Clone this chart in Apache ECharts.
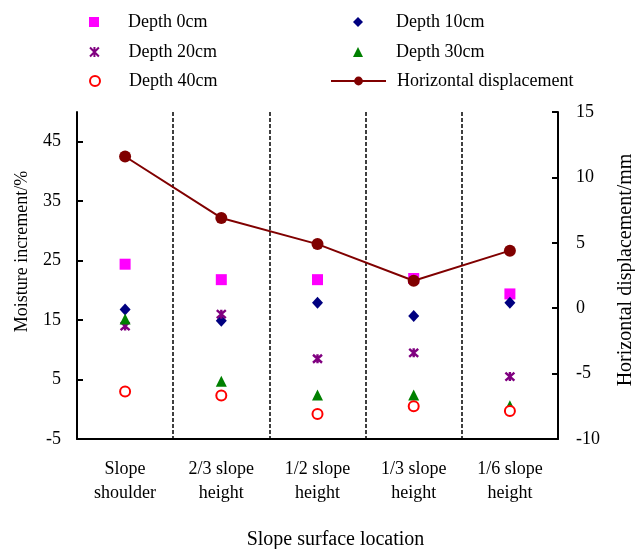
<!DOCTYPE html>
<html>
<head>
<meta charset="utf-8">
<script src="https://cdn.jsdelivr.net/npm/echarts@6/dist/echarts.min.js"></script>
<style>
  html, body { margin: 0; padding: 0; background: #fff; }
  #chart { width: 635px; height: 549px; }
</style>
</head>
<body>
<div id="chart"></div>
<script>
// Slope positions along the surface
const categories = ['Slope\nshoulder', '2/3 slope\nheight', '1/2 slope\nheight', '1/3 slope\nheight', '1/6 slope\nheight'];

// Moisture increment (%) at each depth
const depth0 = [24.4, 21.8, 21.8, 22.0, 19.4];
const depth10 = [16.8, 14.9, 17.9, 15.7, 17.9];
const depth20 = [14.0, 16.0, 8.5, 9.5, 5.5];
const depth30 = [15.2, 4.7, 2.4, 2.4, 0.6];
const depth40 = [3.0, 2.3, -0.8, 0.5, -0.3];

// Horizontal displacement (mm)
const displacement = [11.6, 6.9, 4.9, 2.1, 4.4];

// Tick values for the two value axes
const moistureTicks = [-5, 5, 15, 25, 35, 45];
const displacementTicks = [-10, -5, 0, 5, 10, 15];

const FONT = '"Liberation Serif", "Times New Roman", serif';
const textBase = { fontFamily: FONT, fontSize: 18, color: '#000' };

// asterisk-like cross marker: X with a vertical stroke
const crossPath = 'path://M0,0L8,8M8,0L0,8M4,-0.5L4,8.5';

function legendItem(name, left, top, w, h, padLeft) {
  return {
    data: [name],
    left: left,
    top: top,
    padding: 0,
    itemWidth: w,
    itemHeight: h,
    selectedMode: false,
    textStyle: Object.assign({}, textBase, { padding: [0, 0, 0, padLeft] })
  };
}

const chart = echarts.init(document.getElementById('chart'), null, { renderer: 'canvas' });

chart.setOption({
  animation: false,
  backgroundColor: '#fff',
  textStyle: { fontFamily: FONT },
  legend: [
    legendItem('Depth 0cm', 89, 13, 10, 10, 24),
    legendItem('Depth 20cm', 89, 43, 10, 10, 24),
    legendItem('Depth 40cm', 89, 72, 10, 10, 24),
    legendItem('Depth 10cm', 353, 13, 10, 10, 28),
    legendItem('Depth 30cm', 353, 43, 10, 10, 28),
    legendItem('Horizontal displacement', 330, 72, 55, 11, 6)
  ],
  grid: { left: 77, right: 77, top: 112, bottom: 110, containLabel: false, outerBoundsMode: 'none' },
  xAxis: {
    type: 'category',
    data: categories,
    boundaryGap: true,
    name: 'Slope surface location',
    nameLocation: 'middle',
    nameGap: 91,
    nameTextStyle: Object.assign({}, textBase, { fontSize: 20, padding: [0, 0, 0, 36] }),
    axisLine: { show: true, onZero: false, lineStyle: { color: '#000', width: 2 } },
    axisTick: { show: false },
    axisLabel: Object.assign({}, textBase, { margin: 18, lineHeight: 24, interval: 0 }),
    splitLine: { show: true, lineStyle: { color: '#000', width: 1.5, type: [4, 2] } }
  },
  yAxis: [
    {
      type: 'value',
      position: 'left',
      min: -5,
      max: 50,
      interval: 10,
      name: 'Moisture increment/%',
      nameLocation: 'middle',
      nameRotate: 90,
      nameGap: 46,
      nameTextStyle: Object.assign({}, textBase, { padding: [0, 0, 0, 48] }),
      axisLine: { show: true, onZero: false, lineStyle: { color: '#000', width: 2 } },
      axisTick: { show: true, inside: true, length: 6, customValues: moistureTicks, lineStyle: { color: '#000', width: 2 } },
      axisLabel: Object.assign({}, textBase, { margin: 16, customValues: moistureTicks }),
      splitLine: { show: false }
    },
    {
      type: 'value',
      position: 'right',
      min: -10,
      max: 15,
      interval: 5,
      name: 'Horizontal displacement/mm',
      nameLocation: 'middle',
      nameRotate: 90,
      nameGap: 58,
      nameTextStyle: Object.assign({}, textBase, { fontSize: 20, padding: [0, 0, 0, 11] }),
      axisLine: { show: true, onZero: false, lineStyle: { color: '#000', width: 2 } },
      axisTick: { show: true, inside: true, length: 6, customValues: displacementTicks, lineStyle: { color: '#000', width: 2 } },
      axisLabel: Object.assign({}, textBase, { margin: 18, customValues: displacementTicks }),
      splitLine: { show: false }
    }
  ],
  series: [
    {
      name: 'Depth 0cm', type: 'scatter', data: depth0, yAxisIndex: 0,
      symbol: 'rect', symbolSize: 11, itemStyle: { color: '#FF00FF', opacity: 1 }, z: 3
    },
    {
      name: 'Depth 10cm', type: 'scatter', data: depth10, yAxisIndex: 0,
      symbol: 'diamond', symbolSize: [11, 12], itemStyle: { color: '#000080', opacity: 1 }, z: 3
    },
    {
      name: 'Depth 20cm', type: 'scatter', data: depth20, yAxisIndex: 0,
      symbol: crossPath, symbolSize: 9,
      itemStyle: { color: 'rgba(0,0,0,0)', borderColor: '#800080', borderWidth: 2.4, opacity: 1 }, z: 3
    },
    {
      name: 'Depth 30cm', type: 'scatter', data: depth30, yAxisIndex: 0,
      symbol: 'triangle', symbolSize: 11, itemStyle: { color: '#008000', opacity: 1 }, z: 3
    },
    {
      name: 'Depth 40cm', type: 'scatter', data: depth40, yAxisIndex: 0,
      symbol: 'emptyCircle', symbolSize: 10,
      itemStyle: { color: '#FF0000', borderColor: '#FF0000', borderWidth: 2, opacity: 1 }, z: 4
    },
    {
      name: 'Horizontal displacement', type: 'line', data: displacement, yAxisIndex: 1,
      symbol: 'circle', symbolSize: 12,
      lineStyle: { color: '#800000', width: 2 },
      itemStyle: { color: '#800000' }, z: 5
    }
  ]
});
</script>
</body>
</html>
